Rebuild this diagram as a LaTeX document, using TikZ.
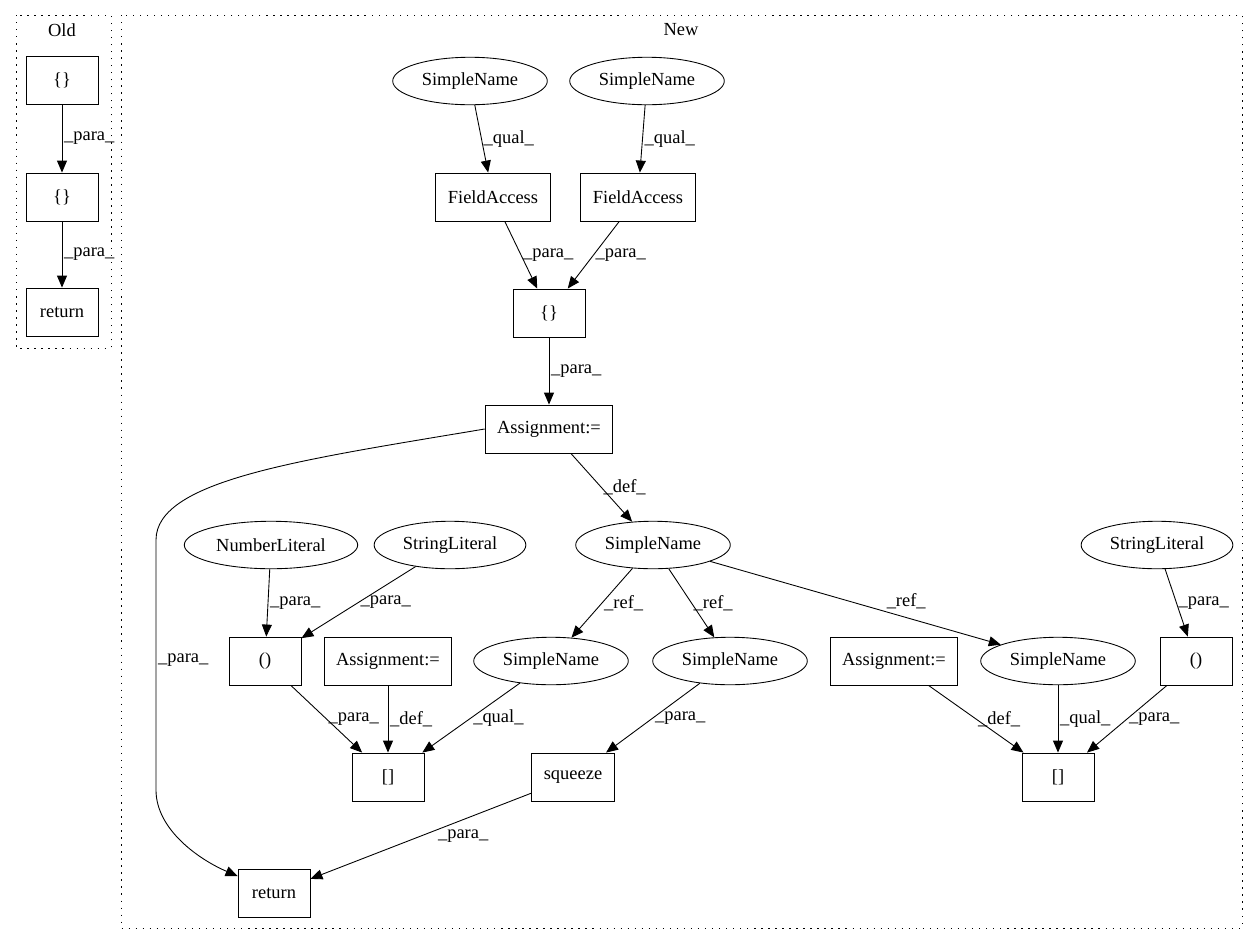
\documentclass[tikz,border=0pt]{standalone}
\usepackage{fontspec}
\setmainfont{Liberation Serif}
\usetikzlibrary{shapes.geometric,arrows.meta}

\begin{document}
\begin{tikzpicture}[x=0.02cm, y=-0.02cm, line width=0.5pt,
  every node/.style={font=\fontsize{10.5}{12}\selectfont},
  box/.style={draw, rectangle, minimum width=1.44cm, minimum height=0.96cm, inner xsep=0.24cm},
  oval/.style={draw, ellipse, minimum height=0.95cm, inner xsep=0.13cm, inner ysep=0pt},
  lbl/.style={anchor=west, inner sep=1pt},
  cluster/.style={dash pattern=on 0.8pt off 3.2pt},
  edge/.style={-{Triangle[length=2.4mm,width=2mm]}}]
  \useasboundingbox (0,0) rectangle (1259,944);
  % clusters
  \draw [cluster] (16,15) rectangle (111,348);
  \draw [cluster] (121,15) rectangle (1242,928);
  \node (old) at (62,30) {Old};
  \node (new) at (681,30) {New};
  % old
  \node [box] (o1) at (62,80) {\{\}};
  \node [box] (o2) at (62,197) {\{\}};
  \node [box] (o3) at (62,312) {return};
  \draw [edge] (o1) -- node[lbl] {\_para\_} (o2);
  \draw [edge] (o2) -- node[lbl] {\_para\_} (o3);
  % new
  \node [oval] (sn1) at (470,81) {SimpleName};
  \node [oval] (sn2) at (647,81) {SimpleName};
  \node [box] (fa1) at (493,197) {FieldAccess};
  \node [box] (fa2) at (638,197) {FieldAccess};
  \node [box] (br) at (549,313) {\{\}};
  \node [box] (asg) at (549,429) {Assignment:=};
  \node [oval] (sn) at (653,545) {SimpleName};
  \node [oval] (num) at (271,545) {NumberLiteral};
  \node [oval] (str1) at (450,545) {StringLiteral};
  \node [oval] (str2) at (1157,545) {StringLiteral};
  \node [box] (par1) at (265,661) {()};
  \node [box] (asg2) at (388,661) {Assignment:=};
  \node [oval] (ref1) at (551,661) {SimpleName};
  \node [oval] (ref2) at (730,661) {SimpleName};
  \node [box] (asg3) at (894,661) {Assignment:=};
  \node [oval] (ref3) at (1058,661) {SimpleName};
  \node [box] (par2) at (1196,661) {()};
  \node [box] (idx1) at (388,777) {[]};
  \node [box] (sq) at (573,777) {squeeze};
  \node [box] (idx2) at (1058,777) {[]};
  \node [box] (ret) at (274,893) {return};
  \draw [edge] (sn1) -- node[lbl] {\_qual\_} (fa1);
  \draw [edge] (sn2) -- node[lbl] {\_qual\_} (fa2);
  \draw [edge] (fa1) -- node[lbl] {\_para\_} (br);
  \draw [edge] (fa2) -- node[lbl] {\_para\_} (br);
  \draw [edge] (br) -- node[lbl] {\_para\_} (asg);
  \draw [edge] (asg) -- node[lbl] {\_def\_} (sn);
  \draw [edge] (asg.west) .. controls (300,460) and (156,480) .. (156,540)
    -- node[lbl, pos=.48] {\_para\_} (156,790) .. controls (156,830) and (200,860) .. (ret.155);
  \draw [edge] (num) -- node[lbl] {\_para\_} (par1);
  \draw [edge] (str1) -- node[lbl] {\_para\_} (par1);
  \draw [edge] (sn) -- node[lbl] {\_ref\_} (ref1);
  \draw [edge] (sn) -- node[lbl] {\_ref\_} (ref2);
  \draw [edge] (sn) -- node[lbl, pos=.6, anchor=south west] {\_ref\_} (ref3);
  \draw [edge] (str2) -- node[lbl] {\_para\_} (par2);
  \draw [edge] (par1) -- node[lbl] {\_para\_} (idx1);
  \draw [edge] (asg2) -- node[lbl] {\_def\_} (idx1);
  \draw [edge] (ref1) -- node[lbl] {\_qual\_} (idx1);
  \draw [edge] (ref2) -- node[lbl] {\_para\_} (sq);
  \draw [edge] (asg3) -- node[lbl] {\_def\_} (idx2);
  \draw [edge] (ref3) -- node[lbl] {\_qual\_} (idx2);
  \draw [edge] (par2) -- node[lbl] {\_para\_} (idx2);
  \draw [edge] (sq) -- node[lbl, xshift=0.3cm] {\_para\_} (ret);
\end{tikzpicture}
\end{document}
